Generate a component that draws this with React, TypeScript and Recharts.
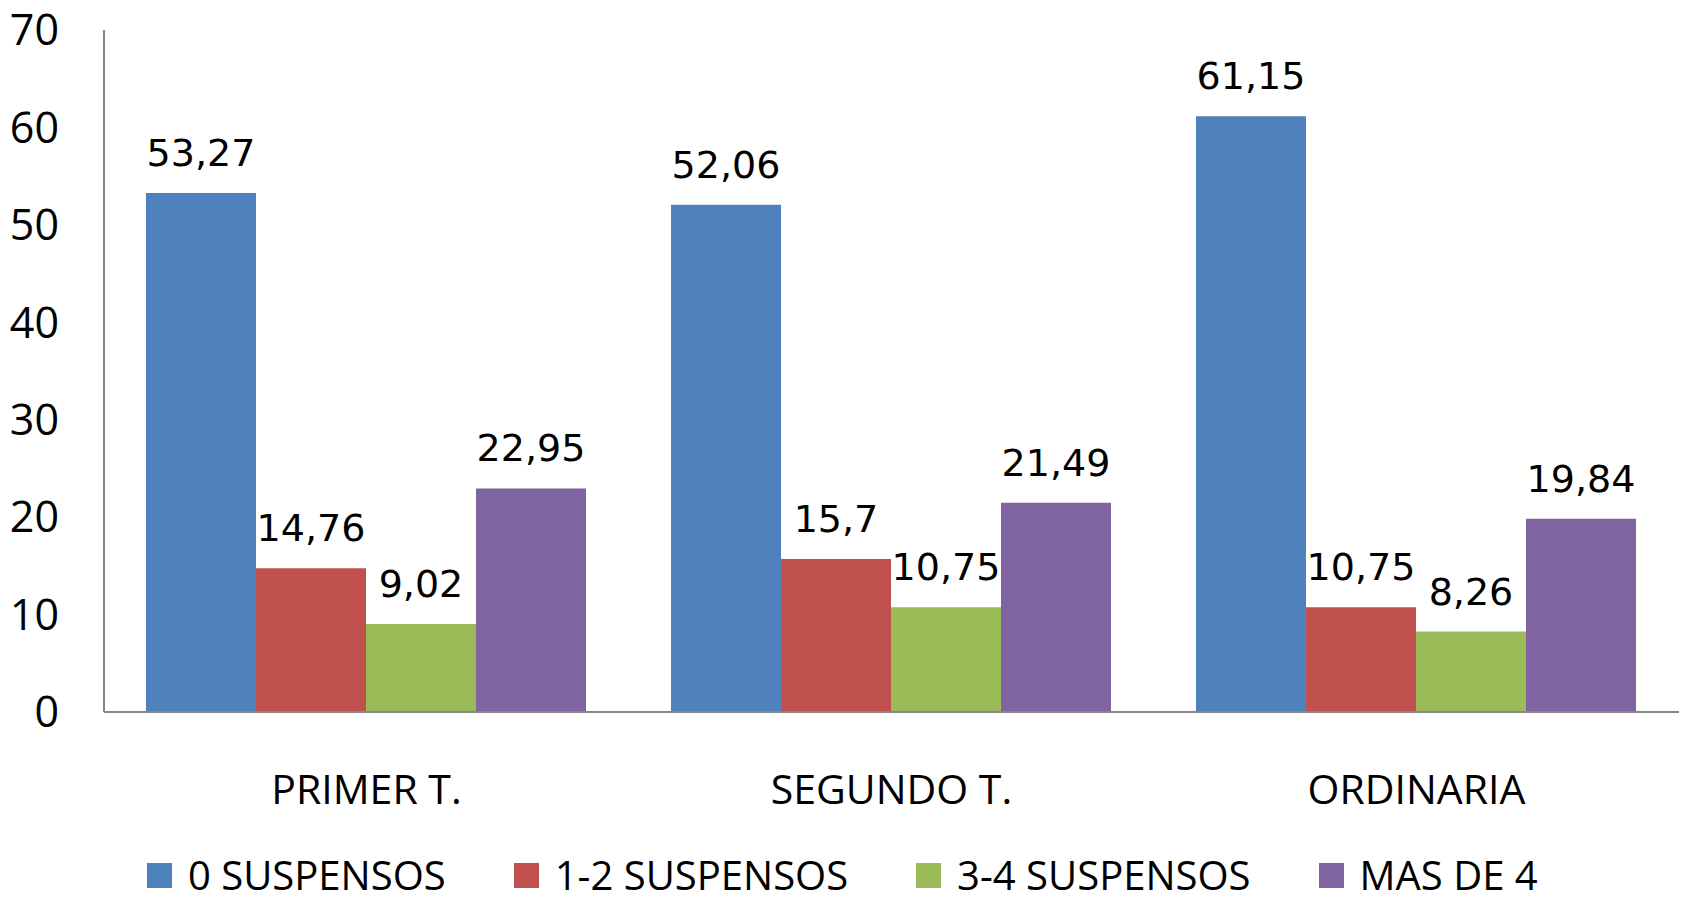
import React from 'react';
import { Bar, BarChart, LabelList, Legend, XAxis, YAxis } from 'recharts';

const CATEGORIES = ['PRIMER T.', 'SEGUNDO T.', 'ORDINARIA'];
const SUSP_0 = [53.27, 52.06, 61.15];
const SUSP_1_2 = [14.76, 15.7, 10.75];
const SUSP_3_4 = [9.02, 10.75, 8.26];
const MAS_DE_4 = [22.95, 21.49, 19.84];
const Y_TICKS = [0, 10, 20, 30, 40, 50, 60, 70];

const SERIES = [
  { key: 's0', name: '0 SUSPENSOS', color: '#4F81BD', values: SUSP_0 },
  { key: 's12', name: '1-2 SUSPENSOS', color: '#C0504D', values: SUSP_1_2 },
  { key: 's34', name: '3-4 SUSPENSOS', color: '#9BBB59', values: SUSP_3_4 },
  { key: 's4', name: 'MAS DE 4', color: '#8064A2', values: MAS_DE_4 },
];

const data = CATEGORIES.map((cat, i) => {
  const row: Record<string, string | number> = { cat };
  SERIES.forEach((s) => {
    row[s.key] = s.values[i];
  });
  return row;
});

const AXIS_FONT = '"Open Sans", sans-serif';
const LABEL_FONT = '"DejaVu Sans", sans-serif';

const fmt = (v: unknown) => String(v).replace('.', ',');

function LegendContent() {
  return (
    <div style={{ height: 89, paddingTop: 43, boxSizing: 'border-box', paddingLeft: 147 }}>
      <div style={{ display: 'flex', alignItems: 'center', gap: 68, height: 40 }}>
        {SERIES.map((s) => (
          <div key={s.key} style={{ display: 'flex', alignItems: 'center', height: 40 }}>
            <span style={{ width: 25, height: 25, background: s.color, display: 'block', marginRight: 16 }} />
            <span
              style={{
                display: 'block',
                fontFamily: AXIS_FONT,
                fontSize: 40,
                color: '#000',
                lineHeight: '40px',
                height: 40,
                whiteSpace: 'nowrap',
              }}
            >
              {s.name}
            </span>
          </div>
        ))}
      </div>
    </div>
  );
}

export default function App() {
  return (
    <div style={{ position: 'absolute', left: 0, top: 0, width: 1685, height: 901, background: '#fff' }}>
      <BarChart
        width={1685}
        height={901}
        data={data}
        margin={{ top: 30, right: 6, left: 0, bottom: 0 }}
        barCategoryGap="8%"
        barGap={0}
      >
        <XAxis
          dataKey="cat"
          height={100}
          tickLine={false}
          tickSize={0}
          tickMargin={63}
          axisLine={{ stroke: '#868686', strokeWidth: 2 }}
          tick={{ fontFamily: AXIS_FONT, fontSize: 41, fill: '#000' }}
        />
        <YAxis
          width={104}
          domain={[0, 70]}
          ticks={Y_TICKS}
          tickLine={false}
          tickSize={0}
          tickMargin={45}
          axisLine={{ stroke: '#868686', strokeWidth: 2 }}
          tick={{ fontFamily: AXIS_FONT, fontSize: 43, fill: '#000' }}
        />
        <Legend verticalAlign="bottom" content={<LegendContent />} />
        {SERIES.map((s) => (
          <Bar key={s.key} dataKey={s.key} name={s.name} fill={s.color} isAnimationActive={false}>
            <LabelList
              dataKey={s.key}
              position="top"
              offset={27}
              formatter={fmt}
              style={{ fontFamily: LABEL_FONT, fontSize: 38, fill: '#000' }}
            />
          </Bar>
        ))}
      </BarChart>
    </div>
  );
}
